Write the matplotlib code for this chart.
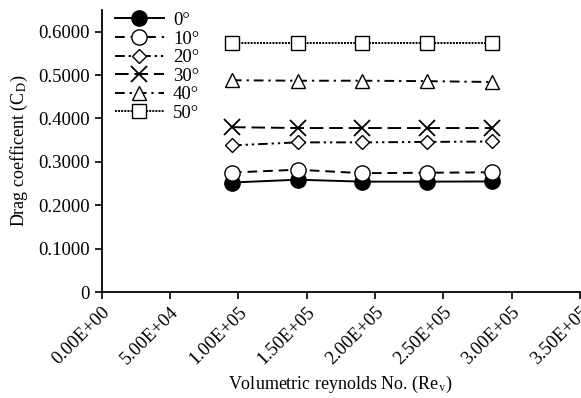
import matplotlib

matplotlib.use("Agg")

import matplotlib.pyplot as plt  # noqa: E402
from matplotlib.ticker import FixedLocator, FuncFormatter  # noqa: E402

plt.rcParams["font.family"] = ["Liberation Serif", "DejaVu Serif"]
plt.rcParams["mathtext.fontset"] = "stix"

# Volumetric Reynolds number of each run
reynolds = [95400, 143400, 190600, 237900, 285900]

# Drag coefficient per inclination angle
cd_0 = [0.2525, 0.2590, 0.2545, 0.2545, 0.2550]
cd_10 = [0.2755, 0.2820, 0.2740, 0.2750, 0.2760]
cd_20 = [0.3380, 0.3450, 0.3450, 0.3460, 0.3470]
cd_30 = [0.3800, 0.3780, 0.3780, 0.3780, 0.3780]
cd_40 = [0.4880, 0.4870, 0.4870, 0.4860, 0.4840]
cd_50 = [0.5730, 0.5730, 0.5730, 0.5730, 0.5730]

labels = ["0°", "10°", "20°", "30°", "40°", "50°"]
x_ticks = [0, 5e4, 1e5, 1.5e5, 2e5, 2.5e5, 3e5, 3.5e5]
y_ticks = [0, 0.1, 0.2, 0.3, 0.4, 0.5, 0.6]

styles = [
    dict(marker="o", mfc="black", ls="-", ms=11),
    dict(marker="o", mfc="white", ls=(0, (5, 3)), ms=11),
    dict(marker="D", mfc="white", ls=(0, (5, 2, 1.2, 2, 1.2, 2)), ms=7.5),
    dict(marker="x", mfc="white", ls=(0, (7, 3)), ms=11, mew=1.3),
    dict(marker="^", mfc="white", ls=(0, (5, 2.5, 1.2, 2.5)), ms=10),
    dict(marker="s", mfc="white", ls=(0, (1, 0.6)), ms=10),
]

fig = plt.figure(figsize=(5.81, 3.98), dpi=100)
ax = fig.add_axes([0.175, 0.266, 0.823, 0.709])

series = [cd_0, cd_10, cd_20, cd_30, cd_40, cd_50]
for values, label, st in zip(series, labels, styles):
    ax.plot(
        reynolds,
        values,
        color="black",
        mec="black",
        lw=1.4,
        label=label,
        **st,
    )

ax.set_xlim(0, 3.5e5)
ax.set_ylim(0, 0.65)
ax.xaxis.set_major_locator(FixedLocator(x_ticks))
ax.yaxis.set_major_locator(FixedLocator(y_ticks))
ax.xaxis.set_major_formatter(FuncFormatter(lambda v, _: f"{v:.2E}"))
ax.yaxis.set_major_formatter(
    FuncFormatter(lambda v, _: "0" if v == 0 else f"{v:.4f}")
)
for lbl in ax.get_xticklabels():
    lbl.set_rotation(45)
    lbl.set_ha("right")
    lbl.set_rotation_mode("anchor")

ax.tick_params(direction="out", length=5, width=1.2, labelsize=13.5, colors="black")
ax.spines["top"].set_visible(False)
ax.spines["right"].set_visible(False)
ax.spines["left"].set_linewidth(1.3)
ax.spines["bottom"].set_linewidth(1.3)

ax.set_xlabel("Volumetric reynolds No. (Re$_\\mathrm{v}$)", fontsize=13, labelpad=4)
ax.set_ylabel("Drag coefficent (C$_\\mathrm{D}$)", fontsize=13, labelpad=6)

ax.legend(
    loc="upper left",
    bbox_to_anchor=(0.0, 1.04),
    frameon=False,
    fontsize=13.5,
    handlelength=2.6,
    handletextpad=0.5,
    labelspacing=0.08,
    borderaxespad=0.3,
)

fig.savefig("out.png", dpi=100)
